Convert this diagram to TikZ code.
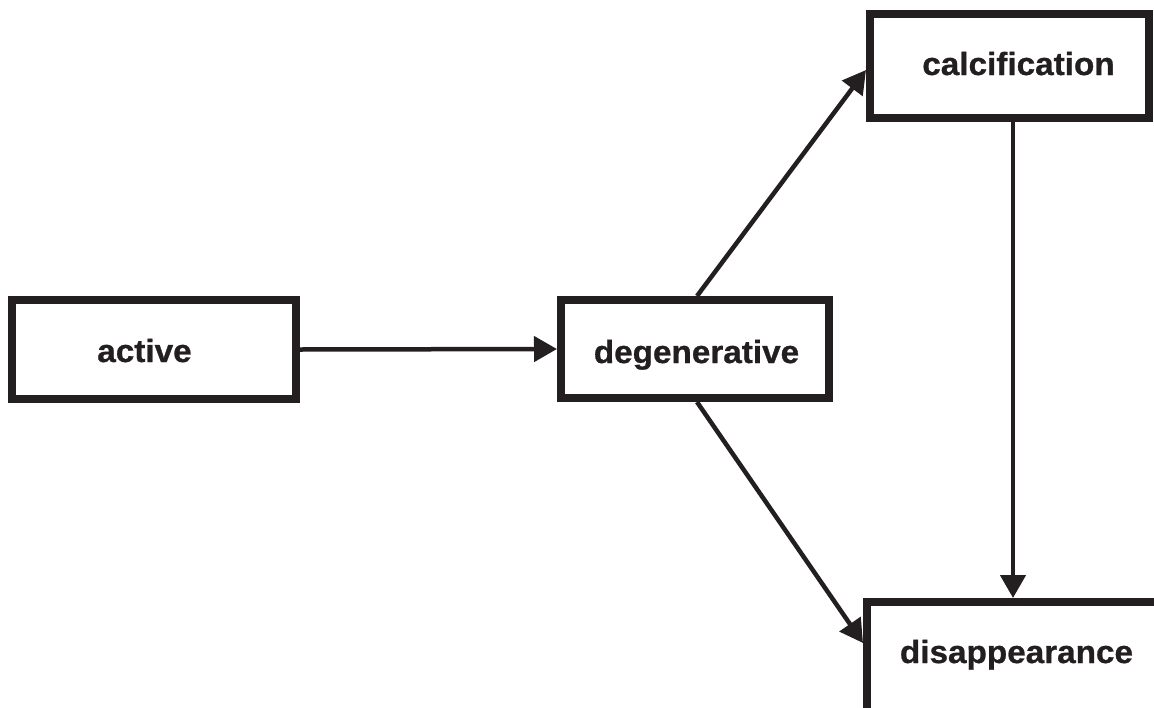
\documentclass[tikz,border=0pt]{standalone}
\usepackage{fontspec}
\newfontfamily\lblfont{Liberation Sans}[FakeStretch=1.04,BoldFeatures={FakeStretch=1.04,FakeBold=0.8}]
\usetikzlibrary{arrows.meta}
\definecolor{ink}{RGB}{35,31,32}
\begin{document}
\begin{tikzpicture}[x=1pt,y=-1pt,
  box/.style={draw=ink, line width=8pt, inner sep=0pt, fill=white},
  lbl/.style={font=\lblfont\bfseries\fontsize{32}{38}\selectfont, text=ink, inner sep=0pt, anchor=base},
  arr/.style={draw=ink, line width=4.5pt, -{Triangle[length=23pt,width=25pt]}}]
\useasboundingbox (0,0) rectangle (1154,707);
\clip (0,0) rectangle (1154,707);
\fill[white] (0,0) rectangle (1154,707);
% boxes
\node[box, minimum width=284pt, minimum height=99pt] (a) at (154,349.5) {};
\node[box, minimum width=268pt, minimum height=98pt] (d) at (695,349) {};
\node[box, minimum width=279pt, minimum height=104pt] (c) at (1009.5,66) {};
\node[box, minimum width=300pt, minimum height=120pt] (p) at (1017,662) {};
% labels
\node[lbl] (ta) at (144.5,362) {active};
\node[lbl] (td) at (696.5,363) {degenerative};
\node[lbl] (tc) at (1018.5,75) {calcification};
\node[lbl] (tp) at (1016.5,663) {disappearance};
% connectors
\coordinate (vx) at (1013,0);
\draw[arr] (a.east) -- (d.west);
\draw[arr] ([xshift=2pt]d.north) -- ([yshift=-4pt]c.west);
\draw[arr] ([xshift=2pt]d.south) -- ([yshift=19pt]p.west);
\draw[arr] (c.south -| vx) -- (p.north -| vx);
\end{tikzpicture}
\end{document}
